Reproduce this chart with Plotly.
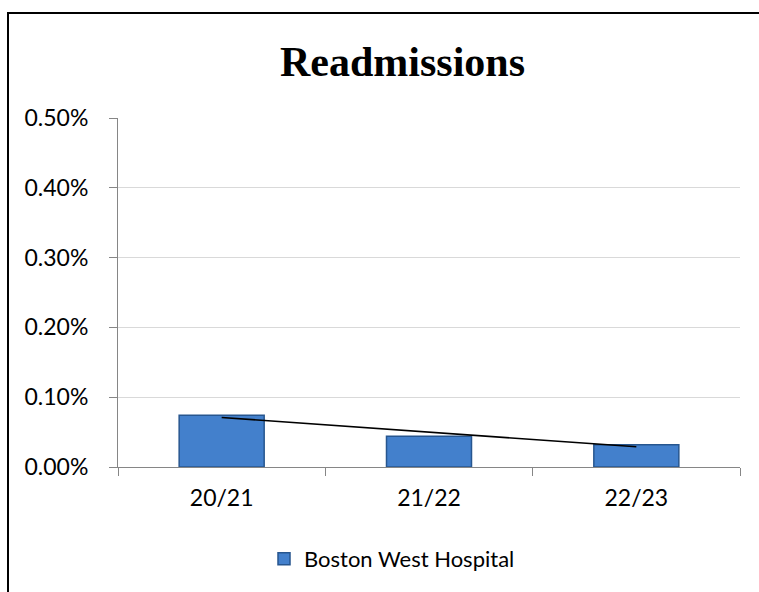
import numpy as np
import plotly.graph_objects as go

# Readmission rate by financial year
years = ["20/21", "21/22", "22/23"]
readmission_rate = [0.00074, 0.00044, 0.00032]
series_name = "Boston West Hospital"
y_ticks = [0, 0.001, 0.002, 0.003, 0.004, 0.005]

# linear trendline through the three years
idx = np.arange(len(years))
slope, intercept = np.polyfit(idx, readmission_rate, 1)
trend = slope * idx + intercept

fig = go.Figure()
fig.add_trace(go.Bar(
    x=years, y=readmission_rate, name=series_name,
    marker=dict(color="#4380cc", line=dict(color="#27568f", width=1.5)),
))
fig.add_trace(go.Scatter(
    x=years, y=trend, mode="lines", showlegend=False, hoverinfo="skip",
    line=dict(color="black", width=1.6),
))

W, H = 759, 592
L, R, T, B = 118, 19, 118, 125
pw, ph = W - L - R, H - T - B

def px_x(x):
    return (x - L) / pw

def px_y(y):
    return (H - B - y) / ph

# chart frame
fig.add_shape(type="rect", xref="paper", yref="paper",
              x0=px_x(8), x1=px_x(800), y0=px_y(13), y1=px_y(640),
              line=dict(color="black", width=2), layer="below")

fig.add_annotation(text="<b>Readmissions</b>", xref="paper", yref="paper",
                   x=px_x(402), y=px_y(62), xanchor="center", yanchor="middle",
                   showarrow=False,
                   font=dict(family="Liberation Serif", size=42, color="black"))

fig.update_layout(
    width=W, height=H,
    margin=dict(l=L, r=R, t=T, b=B),
    paper_bgcolor="white", plot_bgcolor="white",
    font=dict(family="Lato", size=23, color="black"),
    bargap=0.59,
    showlegend=True,
    legend=dict(orientation="h", x=px_x(392), y=px_y(559),
                xanchor="center", yanchor="middle",
                font=dict(family="Lato", size=22, color="black"),
                itemwidth=30),
)
fig.update_xaxes(
    showline=True, linecolor="#868686", linewidth=1,
    ticks="outside", ticklen=8, tickcolor="#868686", tickson="boundaries",
    ticklabelstandoff=10,
    showgrid=False,
)
fig.update_yaxes(
    range=[0, 0.005], tickvals=y_ticks, tickformat=".2%",
    showline=True, linecolor="#868686", linewidth=1,
    ticks="outside", ticklen=8, tickcolor="#868686",
    ticklabelstandoff=16,
    showgrid=True, gridcolor="#d9d9d9", gridwidth=1,
    zeroline=False,
)

fig.write_html("out.html")
